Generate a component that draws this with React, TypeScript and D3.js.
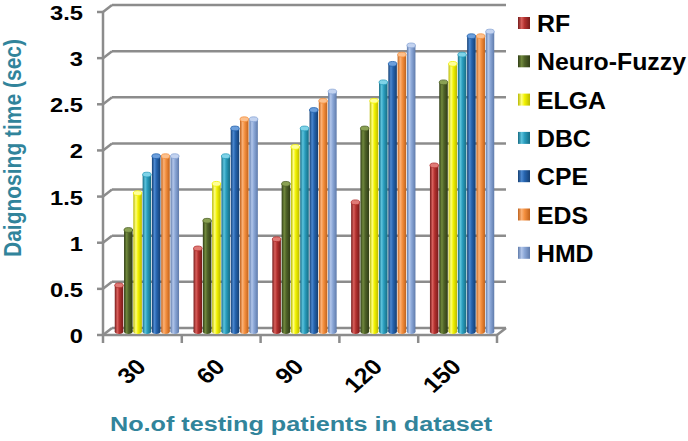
import * as d3 from "d3";

const categories = ["30", "60", "90", "120", "150"];
const seriesNames = ["RF", "Neuro-Fuzzy", "ELGA", "DBC", "CPE", "EDS", "HMD"];
const rfValues = [0.5, 0.9, 1.0, 1.4, 1.8];
const neuroFuzzyValues = [1.1, 1.2, 1.6, 2.2, 2.7];
const elgaValues = [1.5, 1.6, 2.0, 2.5, 2.9];
const dbcValues = [1.7, 1.9, 2.2, 2.7, 3.0];
const cpeValues = [1.9, 2.2, 2.4, 2.9, 3.2];
const edsValues = [1.9, 2.3, 2.5, 3.0, 3.2];
const hmdValues = [1.9, 2.3, 2.6, 3.1, 3.25];
const yTicks = [0, 0.5, 1, 1.5, 2, 2.5, 3, 3.5];

const seriesValues = [rfValues, neuroFuzzyValues, elgaValues, dbcValues, cpeValues, edsValues, hmdValues];

// base, light, dark, cap
const palette: string[][] = [
  ["#b3302e", "#d8605c", "#761b1a", "#e07a76"],
  ["#4f6228", "#71893d", "#303d16", "#8aa153"],
  ["#f2f200", "#ffff80", "#b9b900", "#ffff9a"],
  ["#2a9dbd", "#5cc3dd", "#156b83", "#7fd3e8"],
  ["#2563ad", "#4b88d0", "#153f73", "#6c9fdc"],
  ["#f48f3e", "#fbb277", "#c0621c", "#fcc08d"],
  ["#8aa6d6", "#b2c6ea", "#5f7bab", "#c3d3f0"],
];

const FONT = "'Liberation Sans', Arial, sans-serif";
const TEAL = "#31849b";
const GRID = "#8c8c8c";
const SX = 1.13; // text in the picture is a little wider than normal

export default function App() {
  const width = 688;
  const height = 441;
  const DX = 9;
  const DY = -7;

  // back wall scale
  const y = d3.scaleLinear().domain([0, 3.5]).range([328, 5]);
  const x0 = d3.scaleBand<string>().domain(categories).range([103, 497]);
  const x1 = d3
    .scaleBand<string>()
    .domain(seriesNames)
    .range([0, x0.bandwidth()])
    .paddingInner(0.08)
    .paddingOuter(0.78);

  const frontLeft = x0.range()[0];
  const frontRight = x0.range()[1];
  const y0Back = y(0);
  const baseMid = y0Back - DY / 2;
  const w = x1.bandwidth();

  return (
    <svg
      width={width}
      height={height}
      style={{ position: "absolute", left: 0, top: 0, background: "#fff" }}
      fontFamily={FONT}
    >
      <defs>
        {palette.map((c, i) => (
          <linearGradient key={i} id={`cyl${i}`} x1="0" x2="1" y1="0" y2="0">
            <stop offset="0" stopColor={c[2]} />
            <stop offset="0.3" stopColor={c[1]} />
            <stop offset="0.55" stopColor={c[0]} />
            <stop offset="1" stopColor={c[2]} />
          </linearGradient>
        ))}
      </defs>

      {/* back wall gridlines and side wall */}
      {yTicks.map((t) => (
        <g key={t} stroke={GRID} strokeWidth={2.5} fill="none">
          {t > 0 && <line x1={frontLeft + DX} x2={frontRight + DX} y1={y(t)} y2={y(t)} />}
          <line x1={frontLeft} y1={y(t) - DY} x2={frontLeft + DX} y2={y(t)} />
          <line x1={frontLeft - 6} y1={y(t) - DY} x2={frontLeft} y2={y(t) - DY} />
        </g>
      ))}
      <line x1={frontLeft} x2={frontLeft} y1={y(3.5) - DY} y2={y(0) - DY} stroke={GRID} strokeWidth={2.5} />

      {/* floor */}
      <g stroke={GRID} strokeWidth={2.5} fill="none">
        <line x1={frontLeft} x2={frontRight} y1={y0Back - DY} y2={y0Back - DY} />
        <line x1={frontLeft + DX} x2={frontRight + DX} y1={y0Back} y2={y0Back} />
        <line x1={frontRight} x2={frontRight + DX} y1={y0Back - DY} y2={y0Back} />
        {[...categories.map((c) => x0(c) as number), frontRight].map((xv, i) => (
          <line key={i} x1={xv} x2={xv} y1={y0Back - DY} y2={y0Back - DY + 8} />
        ))}
      </g>

      {/* cylinders */}
      {categories.map((cat, ci) => (
        <g key={cat} transform={`translate(${(x0(cat) as number) + DX / 2},0)`}>
          {seriesNames.map((s, si) => {
            const v = seriesValues[si][ci];
            const top = y(v) - DY / 2;
            const bx = x1(s) as number;
            const ry = 2.4;
            return (
              <g key={s}>
                <ellipse cx={bx + w / 2} cy={baseMid} rx={w / 2} ry={ry} fill={`url(#cyl${si})`} />
                <rect x={bx} y={top} width={w} height={baseMid - top} fill={`url(#cyl${si})`} />
                <ellipse cx={bx + w / 2} cy={top} rx={w / 2} ry={ry} fill={palette[si][3]} stroke={palette[si][0]} strokeWidth={0.8} />
              </g>
            );
          })}
        </g>
      ))}

      {/* y tick labels */}
      {yTicks.map((t) => (
        <text
          key={t}
          transform={`translate(83,${y(t) - DY + 1}) scale(${SX},1)`}
          textAnchor="end"
          dominantBaseline="central"
          fontSize={21}
          fontWeight="bold"
          fill="#000"
        >
          {d3.format("")(t)}
        </text>
      ))}

      {/* x tick labels */}
      {categories.map((c) => {
        const cx = (x0(c) as number) + x0.bandwidth() / 2 + 5;
        return (
          <text
            key={c}
            transform={`translate(${cx},368) scale(${SX},1) rotate(-45)`}
            textAnchor="end"
            fontSize={22}
            fontWeight="bold"
            fill="#000"
          >
            {c}
          </text>
        );
      })}

      {/* axis titles */}
      <text
        transform={`translate(13,148) scale(${SX},1) rotate(-90)`}
        textAnchor="middle"
        dominantBaseline="central"
        fontSize={21}
        fontWeight="bold"
        fill={TEAL}
      >
        Daignosing time (sec)
      </text>
      <text
        transform={`translate(301,431) scale(1.2,1)`}
        textAnchor="middle"
        fontSize={21}
        fontWeight="bold"
        fill={TEAL}
      >
        No.of testing patients in dataset
      </text>

      {/* legend */}
      {seriesNames.map((s, i) => {
        const ly = 23 + i * 38.3;
        return (
          <g key={s}>
            <rect x={518} y={ly - 6} width={12} height={12} fill={`url(#cyl${i})`} />
            <text
              transform={`translate(537,${ly + 1}) scale(1.08,1)`}
              dominantBaseline="central"
              fontSize={23}
              fontWeight="bold"
              fill="#000"
            >
              {s}
            </text>
          </g>
        );
      })}
    </svg>
  );
}
